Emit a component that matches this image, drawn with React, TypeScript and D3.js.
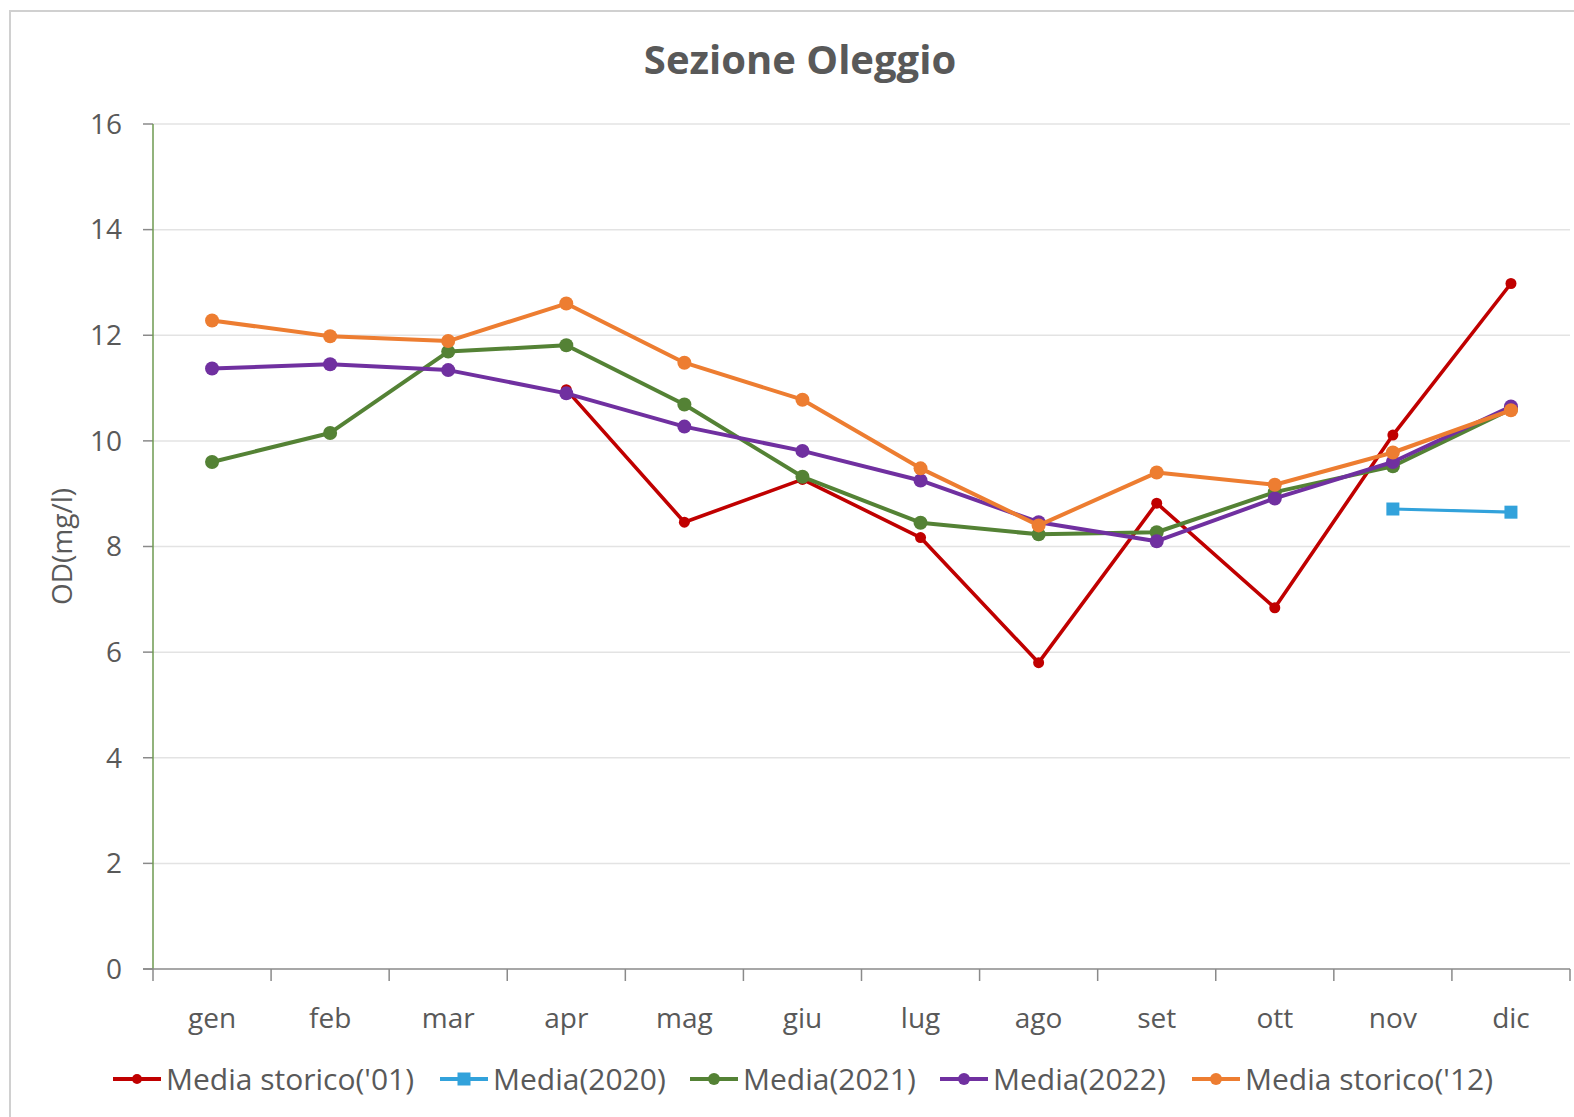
import React from "react";
import * as d3 from "d3";

const months = ["gen", "feb", "mar", "apr", "mag", "giu", "lug", "ago", "set", "ott", "nov", "dic"];
const yTicks = [0, 2, 4, 6, 8, 10, 12, 14, 16];

const storico01: (number | null)[] = [null, null, null, 10.97, 8.46, 9.27, 8.17, 5.8, 8.82, 6.84, 10.11, 12.98];
const media2020: (number | null)[] = [null, null, null, null, null, null, null, null, null, null, 8.71, 8.65];
const media2021: (number | null)[] = [9.6, 10.15, 11.69, 11.81, 10.69, 9.32, 8.45, 8.23, 8.27, 9.03, 9.52, 10.6];
const media2022: (number | null)[] = [11.37, 11.45, 11.34, 10.9, 10.27, 9.81, 9.25, 8.46, 8.1, 8.91, 9.6, 10.65];
const storico12: (number | null)[] = [12.28, 11.98, 11.89, 12.6, 11.48, 10.78, 9.48, 8.4, 9.4, 9.17, 9.78, 10.58];

const seriesNames = ["Media storico('01)", "Media(2020)", "Media(2021)", "Media(2022)", "Media storico('12)"];

const W = 1574;
const H = 1117;
const left = 153;
const right = 1570;
const top = 124;
const bottom = 969;
const FONT = "'Open Sans', sans-serif";
const TXT = "#595959";

const series = [
  { name: seriesNames[0], values: storico01, color: "#C00000", marker: "circle", r: 5.5, width: 3.6 },
  { name: seriesNames[1], values: media2020, color: "#32A2DB", marker: "square", r: 6.5, width: 3.2 },
  { name: seriesNames[2], values: media2021, color: "#548235", marker: "circle", r: 7, width: 4 },
  { name: seriesNames[3], values: media2022, color: "#7030A0", marker: "circle", r: 7, width: 4 },
  { name: seriesNames[4], values: storico12, color: "#ED7D31", marker: "circle", r: 7, width: 4 },
];

const legendX = [113, 440, 690, 940, 1192];

export default function App() {
  const x = d3.scaleBand<string>().domain(months).range([left, right]);
  const y = d3.scaleLinear().domain([0, 16]).range([bottom, top]);
  const cx = (m: string) => (x(m) as number) + x.bandwidth() / 2;

  const line = d3
    .line<{ m: string; v: number | null }>()
    .defined((d) => d.v !== null)
    .x((d) => cx(d.m))
    .y((d) => y(d.v as number));

  const boundaries = months.map((m) => x(m) as number).concat([right]);

  return (
    <svg width={W} height={H} style={{ position: "absolute", left: 0, top: 0, background: "#fff" }}>
      <rect x={10} y={11} width={W} height={H} fill="#fff" stroke="#d0d0d0" strokeWidth={2} />
      <text x={800} y={74} textAnchor="middle" fontFamily={FONT} fontWeight={700} fontSize={40} fill={TXT}>
        Sezione Oleggio
      </text>
      {yTicks.map((t) => (
        <g key={t}>
          {t > 0 && <line x1={left} x2={right} y1={y(t)} y2={y(t)} stroke="#e3e3e3" strokeWidth={1.5} />}
          <line x1={left - 10} x2={left} y1={y(t)} y2={y(t)} stroke="#8a8a8a" strokeWidth={1.5} />
          <text x={122} y={y(t)} dy="0.35em" textAnchor="end" fontFamily={FONT} fontSize={28} fill={TXT}>
            {t}
          </text>
        </g>
      ))}
      <line x1={left} x2={left} y1={top} y2={bottom} stroke="#6E9A50" strokeWidth={1.5} />
      <line x1={left - 10} x2={right} y1={bottom} y2={bottom} stroke="#8a8a8a" strokeWidth={1.5} />
      {boundaries.map((b, i) => (
        <line key={i} x1={b} x2={b} y1={bottom} y2={bottom + 12} stroke="#8a8a8a" strokeWidth={1.5} />
      ))}
      {months.map((m) => (
        <text key={m} x={cx(m)} y={1028} textAnchor="middle" fontFamily={FONT} fontSize={28} fill={TXT}>
          {m}
        </text>
      ))}
      <text
        transform={`translate(72,${(top + bottom) / 2}) rotate(-90)`}
        textAnchor="middle"
        fontFamily={FONT}
        fontSize={28}
        fill={TXT}
      >
        OD(mg/l)
      </text>
      {series.map((s) => {
        const pts = months.map((m, i) => ({ m, v: s.values[i] }));
        return (
          <g key={s.name}>
            <path d={line(pts) || ""} fill="none" stroke={s.color} strokeWidth={s.width} strokeLinejoin="round" />
            {pts
              .filter((p) => p.v !== null)
              .map((p) =>
                s.marker === "square" ? (
                  <rect
                    key={p.m}
                    x={cx(p.m) - s.r}
                    y={y(p.v as number) - s.r}
                    width={s.r * 2}
                    height={s.r * 2}
                    fill={s.color}
                  />
                ) : (
                  <circle key={p.m} cx={cx(p.m)} cy={y(p.v as number)} r={s.r} fill={s.color} />
                )
              )}
          </g>
        );
      })}
      {series.map((s, i) => {
        const lx = legendX[i];
        const ly = 1079;
        return (
          <g key={s.name}>
            <line x1={lx} x2={lx + 48} y1={ly} y2={ly} stroke={s.color} strokeWidth={4} />
            {s.marker === "square" ? (
              <rect x={lx + 24 - 6.5} y={ly - 6.5} width={13} height={13} fill={s.color} />
            ) : (
              <circle cx={lx + 24} cy={ly} r={s.r === 5.5 ? 5 : 6} fill={s.color} />
            )}
            <text x={lx + 53} y={ly} dy="0.35em" fontFamily={FONT} fontSize={30} fill={TXT}>
              {s.name}
            </text>
          </g>
        );
      })}
    </svg>
  );
}
